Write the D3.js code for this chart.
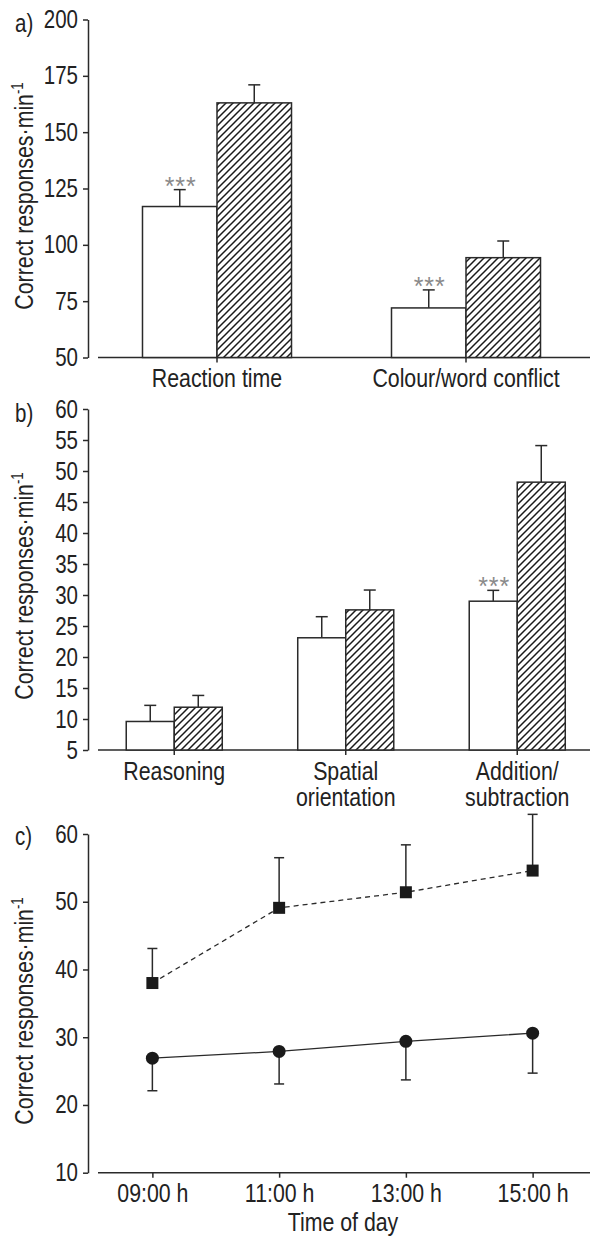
<!DOCTYPE html>
<html><head><meta charset="utf-8">
<script src="https://cdn.jsdelivr.net/npm/d3@7"></script>
<style>
body{margin:0;background:#fff;}
text{font-family:"Liberation Sans Narrow","Arial Narrow","Liberation Sans",Arial,sans-serif;fill:#222;}
</style></head><body>
<svg id="chart" width="591" height="1240"></svg>
<script>
// ---- Panel a ----
const catsA = ["Reaction time", "Colour/word conflict"];
const openA = [117, 72];
const openErrA = [7.5, 8];
const hatchA = [163, 94.3];
const hatchErrA = [8, 7.4];
const sigA = [true, true];
const ticksA = [50, 75, 100, 125, 150, 175, 200];

// ---- Panel b ----
const catsB = ["Reasoning", "Spatial\norientation", "Addition/\nsubtraction"];
const openB = [9.6, 23.1, 29.0];
const openErrB = [2.6, 3.4, 1.75];
const hatchB = [11.9, 27.6, 48.2];
const hatchErrB = [1.9, 3.2, 5.9];
const sigB = [false, false, true];
const ticksB = [5, 10, 15, 20, 25, 30, 35, 40, 45, 50, 55, 60];

// ---- Panel c ----
const times = ["09:00 h", "11:00 h", "13:00 h", "15:00 h"];
const squareC = [38.0, 49.1, 51.4, 54.6];
const squareErrC = [5.1, 7.4, 7.0, 8.3];
const circleC = [26.9, 27.9, 29.4, 30.6];
const circleErrC = [4.8, 4.8, 5.7, 5.9];
const ticksC = [10, 20, 30, 40, 50, 60];

const svg = d3.select("#chart");
const INK = "#2a2a2a";
const FS = 25;
const NARROW = 0.82;
const condensed = [];

const defs = svg.append("defs");
const pat = defs.append("pattern").attr("id", "hatch")
  .attr("patternUnits", "userSpaceOnUse").attr("width", 7).attr("height", 7);
pat.append("rect").attr("width", 7).attr("height", 7).attr("fill", "#fff");
pat.append("path").attr("d", "M-1,1 l2,-2 M0,7 l7,-7 M6,8 l2,-2")
  .attr("stroke", "#1a1a1a").attr("stroke-width", 1.5);

function yAxis(g, y, ticks) {
  const ax = g.append("g").attr("transform", "translate(88,0)")
    .call(d3.axisLeft(y).tickValues(ticks).tickSize(5).tickSizeOuter(0).tickPadding(5));
  ax.selectAll("path,line").attr("stroke", INK).attr("stroke-width", 1.5);
  ax.selectAll("text").attr("font-size", FS).attr("font-family", null).attr("fill", INK)
    .each(function () { condensed.push(this); });
  return ax;
}

function yLabel(cy) {
  const t = svg.append("text")
    .attr("transform", `translate(33,${cy}) rotate(-90)`)
    .attr("text-anchor", "middle").attr("font-size", 26);
  condensed.push(t.append("tspan").text("Correct responses\u00b7min").node());
  condensed.push(t.append("tspan").attr("font-size", 16).attr("dy", -10).text("-1").node());
}

function panelLetter(txt, y) {
  condensed.push(svg.append("text").attr("x", 15).attr("y", y).attr("font-size", FS).text(txt).node());
}

function barPanel(o) {
  const g = svg.append("g");
  const y = d3.scaleLinear().domain(o.yDomain).range(o.yRange);
  const x = d3.scaleBand().domain(o.cats).range(o.xRange).padding(0);
  const inner = d3.scaleBand().domain(["open", "hatch"]).range([0, x.bandwidth()])
    .paddingInner(0).paddingOuter(o.outerPad);
  const y0 = o.yRange[0];

  yAxis(g, y, o.ticks);
  g.append("line").attr("x1", 98).attr("x2", 590).attr("y1", y0).attr("y2", y0)
    .attr("stroke", INK).attr("stroke-width", 1.5);
  const xa = g.append("g").attr("transform", `translate(0,${y0})`)
    .call(d3.axisBottom(x).tickSize(5).tickSizeOuter(0).tickFormat(""));
  xa.select(".domain").remove();
  xa.selectAll("line").attr("stroke", INK).attr("stroke-width", 1.5);

  const series = [
    { key: "open", vals: o.open, errs: o.openErr, fill: "#fff" },
    { key: "hatch", vals: o.hatch, errs: o.hatchErr, fill: "url(#hatch)" }
  ];
  series.forEach(s => {
    o.cats.forEach((c, i) => {
      const bx = x(c) + inner(s.key), bw = inner.bandwidth();
      const cx = bx + bw / 2;
      const top = y(s.vals[i]), et = y(s.vals[i] + s.errs[i]);
      g.append("line").attr("x1", cx).attr("x2", cx).attr("y1", top).attr("y2", et)
        .attr("stroke", INK).attr("stroke-width", 1.5);
      g.append("line").attr("x1", cx - 6).attr("x2", cx + 6).attr("y1", et).attr("y2", et)
        .attr("stroke", INK).attr("stroke-width", 1.5);
      g.append("rect").attr("x", bx).attr("y", top).attr("width", bw).attr("height", y0 - top)
        .attr("fill", s.fill).attr("stroke", INK).attr("stroke-width", 1.5);
      if (s.key === "open" && o.sig[i]) {
        g.append("text").attr("x", cx + 1).attr("y", et + 5).attr("text-anchor", "middle")
          .attr("font-family", "Liberation Sans, Arial, sans-serif")
          .attr("font-size", 25).attr("letter-spacing", 1).style("fill", "#8a8a8a").text("***");
      }
    });
  });
  o.cats.forEach(c => {
    const lines = c.split("\n");
    const t = g.append("text").attr("text-anchor", "middle").attr("font-size", 26)
      .attr("x", x(c) + x.bandwidth() / 2).attr("y", o.labelY);
    lines.forEach((ln, k) => condensed.push(t.append("tspan").attr("x", x(c) + x.bandwidth() / 2)
      .attr("dy", k === 0 ? 0 : 25.5).text(ln).node()));
  });
}

barPanel({
  cats: catsA, open: openA, openErr: openErrA, hatch: hatchA, hatchErr: hatchErrA, sig: sigA,
  ticks: ticksA, yDomain: [50, 200], yRange: [357.5, 19.5], xRange: [92.5, 590.5],
  outerPad: 0.671, labelY: 387
});
yLabel(196);
panelLetter("a)", 32);

barPanel({
  cats: catsB, open: openB, openErr: openErrB, hatch: hatchB, hatchErr: hatchErrB, sig: sigB,
  ticks: ticksB, yDomain: [5, 60], yRange: [750, 409], xRange: [88.5, 603],
  outerPad: 0.786, labelY: 780
});
yLabel(586);
panelLetter("b)", 422);

// ---- Panel c ----
(function () {
  const g = svg.append("g");
  const y = d3.scaleLinear().domain([10, 60]).range([1172.7, 834]);
  const x = d3.scalePoint().domain(times).range([89, 596]).padding(0.5);
  const y0 = 1172.7;
  yAxis(g, y, ticksC);
  g.append("line").attr("x1", 98).attr("x2", 590).attr("y1", y0).attr("y2", y0)
    .attr("stroke", INK).attr("stroke-width", 1.5);
  const xa = g.append("g").attr("transform", `translate(0,${y0})`)
    .call(d3.axisBottom(x).tickSize(5).tickSizeOuter(0).tickPadding(6));
  xa.select(".domain").remove();
  xa.selectAll("line").attr("stroke", INK).attr("stroke-width", 1.5);
  xa.selectAll("text").attr("font-size", 26).attr("font-family", null).attr("fill", INK)
    .attr("dy", null).attr("y", 29).each(function () { condensed.push(this); });

  times.forEach((t, i) => {
    const cx = x(t);
    const sTop = y(squareC[i] + squareErrC[i]);
    g.append("line").attr("x1", cx).attr("x2", cx).attr("y1", y(squareC[i])).attr("y2", sTop)
      .attr("stroke", INK).attr("stroke-width", 1.5);
    g.append("line").attr("x1", cx - 5).attr("x2", cx + 5).attr("y1", sTop).attr("y2", sTop)
      .attr("stroke", INK).attr("stroke-width", 1.5);
    const cBot = y(circleC[i] - circleErrC[i]);
    g.append("line").attr("x1", cx).attr("x2", cx).attr("y1", y(circleC[i])).attr("y2", cBot)
      .attr("stroke", INK).attr("stroke-width", 1.5);
    g.append("line").attr("x1", cx - 5).attr("x2", cx + 5).attr("y1", cBot).attr("y2", cBot)
      .attr("stroke", INK).attr("stroke-width", 1.5);
  });

  const line = d3.line().x((d, i) => x(times[i])).y(d => y(d));
  g.append("path").datum(squareC).attr("d", line).attr("fill", "none")
    .attr("stroke", INK).attr("stroke-width", 1.3).attr("stroke-dasharray", "5,4");
  g.append("path").datum(circleC).attr("d", line).attr("fill", "none")
    .attr("stroke", INK).attr("stroke-width", 1.3);

  g.selectAll(".sq").data(squareC).enter().append("rect")
    .attr("x", (d, i) => x(times[i]) - 6).attr("y", d => y(d) - 6)
    .attr("width", 12).attr("height", 12).attr("fill", "#1a1a1a");
  g.selectAll(".ci").data(circleC).enter().append("circle")
    .attr("cx", (d, i) => x(times[i])).attr("cy", d => y(d)).attr("r", 6.5).attr("fill", "#1a1a1a");

  condensed.push(g.append("text").attr("x", 343).attr("y", 1231).attr("text-anchor", "middle")
    .attr("font-size", 26).text("Time of day").node());
})();
yLabel(1011);
panelLetter("c)", 845);

// condense text horizontally (narrow typeface look)
condensed.forEach(n => {
  const L = n.getComputedTextLength();
  n.setAttribute("textLength", (L * NARROW).toFixed(2));
  n.setAttribute("lengthAdjust", "spacingAndGlyphs");
});
</script>
</body></html>
